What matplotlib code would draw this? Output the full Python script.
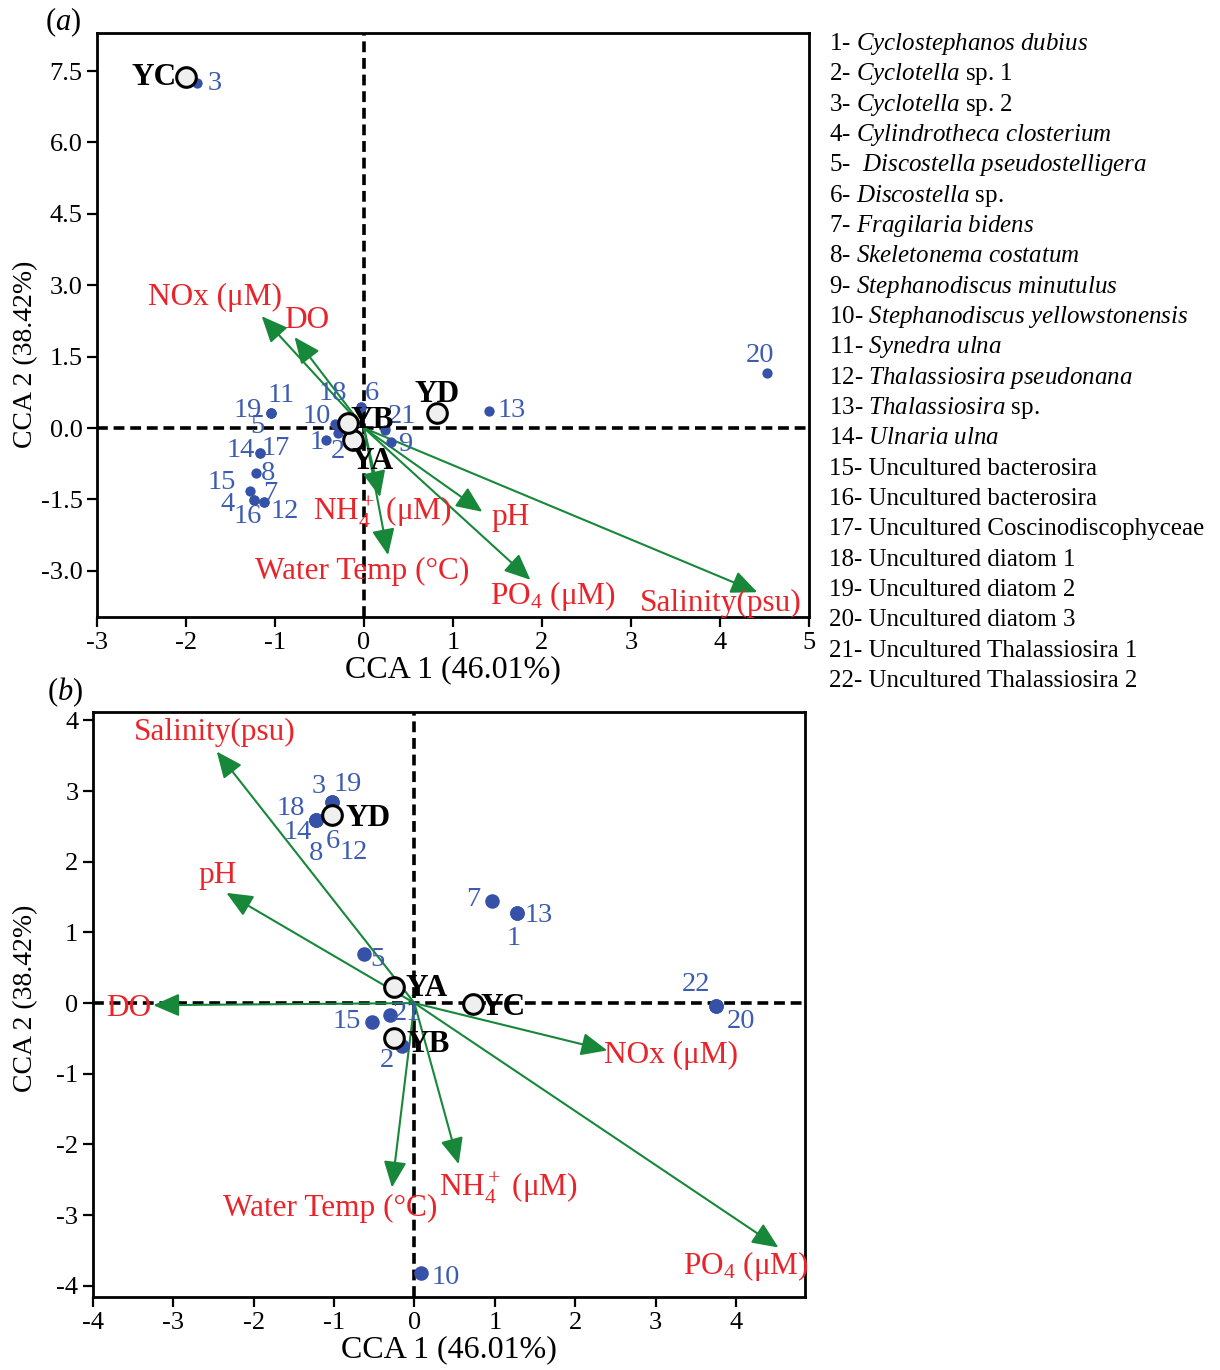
import matplotlib
matplotlib.use("Agg")
import matplotlib.pyplot as plt
import numpy as np

plt.rcParams['font.family'] = ['Liberation Serif', 'DejaVu Serif']
plt.rcParams['mathtext.fontset'] = 'custom'
plt.rcParams['mathtext.rm'] = 'Liberation Serif'
plt.rcParams['mathtext.it'] = 'Liberation Serif:italic'
plt.rcParams['mathtext.bf'] = 'Liberation Serif:bold'

# ---------------- data: panel (a) ----------------
sp_a_labels = ['1', '2', '3', '4', '5', '6', '7', '8', '9', '10', '11', '12', '13',
               '14', '15', '16', '17', '18', '19', '20', '21']
sp_a_x = [-0.43, -0.29, -1.88, -1.24, -1.05, -0.03, -1.12, -1.21, 0.30, -0.33, -1.05,
          -1.12, 1.40, -1.17, -1.28, -1.24, -1.17, -0.03, -1.05, 4.53, 0.24]
sp_a_y = [-0.25, -0.11, 7.25, -1.51, 0.31, 0.45, -1.55, -0.94, -0.29, 0.08, 0.31,
          -1.55, 0.36, -0.53, -1.32, -1.51, -0.53, 0.45, 0.31, 1.16, -0.04]

site_a_names = ['YA', 'YB', 'YC', 'YD']
site_a_x = [-0.12, -0.18, -2.00, 0.82]
site_a_y = [-0.25, 0.10, 7.37, 0.32]

env_a_names = ['NOx (μM)', 'DO', r'NH$_4^+$ (μM)', 'Water Temp (°C)', 'pH',
               r'PO$_4$ (μM)', 'Salinity(psu)']
env_a_x = [-1.15, -0.78, 0.18, 0.27, 1.33, 1.87, 4.42]
env_a_y = [2.35, 1.91, -1.45, -2.67, -1.76, -3.19, -3.45]

# ---------------- data: panel (b) ----------------
sp_b_labels = ['1', '2', '3', '5', '6', '7', '8', '10', '12', '13', '14', '15',
               '18', '19', '20', '21', '22']
sp_b_x = [1.27, -0.16, -1.02, -0.63, -1.03, 0.96, -1.23, 0.08, -1.03, 1.27, -1.23,
          -0.53, -1.23, -1.02, 3.75, -0.31, 3.75]
sp_b_y = [1.27, -0.61, 2.85, 0.69, 2.66, 1.44, 2.59, -3.82, 2.66, 1.27, 2.59,
          -0.27, 2.59, 2.85, -0.04, -0.17, -0.04]

site_b_names = ['YA', 'YB', 'YC', 'YD']
site_b_x = [-0.26, -0.26, 0.73, -1.03]
site_b_y = [0.23, -0.50, -0.01, 2.66]

env_b_names = ['Salinity(psu)', 'pH', 'DO', 'NOx (μM)', r'NH$_4^+$ (μM)',
               'Water Temp (°C)', r'PO$_4$ (μM)']
env_b_x = [-2.46, -2.34, -3.25, 2.40, 0.55, -0.28, 4.53]
env_b_y = [3.56, 1.56, -0.03, -0.67, -2.28, -2.61, -3.46]

species_legend = [
    r'1- $\mathit{Cyclostephanos\ dubius}$',
    r'2- $\mathit{Cyclotella}$ sp. 1',
    r'3- $\mathit{Cyclotella}$ sp. 2',
    r'4- $\mathit{Cylindrotheca\ closterium}$',
    r'5-  $\mathit{Discostella\ pseudostelligera}$',
    r'6- $\mathit{Discostella}$ sp.',
    r'7- $\mathit{Fragilaria\ bidens}$',
    r'8- $\mathit{Skeletonema\ costatum}$',
    r'9- $\mathit{Stephanodiscus\ minutulus}$',
    r'10- $\mathit{Stephanodiscus\ yellowstonensis}$',
    r'11- $\mathit{Synedra\ ulna}$',
    r'12- $\mathit{Thalassiosira\ pseudonana}$',
    r'13- $\mathit{Thalassiosira}$ sp.',
    r'14- $\mathit{Ulnaria\ ulna}$',
    '15- Uncultured bacterosira',
    '16- Uncultured bacterosira',
    '17- Uncultured Coscinodiscophyceae',
    '18- Uncultured diatom 1',
    '19- Uncultured diatom 2',
    '20- Uncultured diatom 3',
    '21- Uncultured Thalassiosira 1',
    '22- Uncultured Thalassiosira 2',
]

# ---------------- label layout (pixel offsets) ----------------
sp_a_off = [(-9, -3), (0, -18), (18, -1), (-26, -5), (-13, -13), (11, 13), (6, 8),
            (12, -1), (14, -3), (-18, 8), (11, 18), (20, -10), (23, 0), (-19, 3),
            (-28, 8), (-6, -17), (16, 5), (-29, 13), (-23, 3), (-7, 17), (17, 13)]
site_a_off = [(19, -22), (24, 3), (-32, 0), (0, 18)]
env_a_off = [(-47, 19), (12, 17), (2, -15), (-26, -16), (28, -6), (22, -16), (-37, -11)]

sp_b_off = [(-3, -25), (-15, -14), (-14, 15), (14, -5), (1, -26), (-18, 2), (0, -33),
            (25, -5), (22, -37), (22, -2), (-18, -12), (-25, 1), (-25, 12), (15, 17),
            (25, -16), (17, 2), (-20, 21)]
site_b_off = [(33, -2), (35, -6), (30, -4), (36, -3)]
env_b_off = [(-2, 19), (-9, 17), (-25, -3), (64, -5), (50, -24), (-62, -21), (-33, -18)]

BLUE_DOT = '#3652a8'
BLUE_TXT = '#3d5cb0'
RED = '#e8242a'
GREEN = '#17883a'

fig = plt.figure(figsize=(12.2, 13.7), dpi=100)
ax_a = fig.add_axes([97 / 1220, 1 - 617 / 1370, 712 / 1220, 584 / 1370])
ax_b = fig.add_axes([93 / 1220, 1 - 1297 / 1370, 712 / 1220, 585 / 1370])


def draw_panel(ax, spx, spy, splab, spoff, dot_s, sx, sy, snames, soff,
               ex, ey, enames, eoff):
    ax.axhline(0, color='black', lw=2.6, ls=(0, (3.0, 1.6)), zorder=1)
    ax.axvline(0, color='black', lw=2.6, ls=(0, (3.0, 1.6)), zorder=1)
    for x, y, name, off in zip(ex, ey, enames, eoff):
        ax.annotate('', xy=(x, y), xytext=(0, 0),
                    arrowprops=dict(arrowstyle='-|>,head_length=0.8,head_width=0.35',
                                    color=GREEN, lw=1.5, mutation_scale=20,
                                    shrinkA=0, shrinkB=0), zorder=2)
        ax.annotate(name, xy=(x, y), xytext=off, textcoords='offset pixels',
                    ha='center', va='center', color=RED, fontsize=22.5, zorder=5)
    ax.scatter(spx, spy, s=dot_s, color=BLUE_DOT, zorder=3, linewidths=0)
    for x, y, lab, off in zip(spx, spy, splab, spoff):
        ax.annotate(lab, xy=(x, y), xytext=off, textcoords='offset pixels',
                    ha='center', va='center', color=BLUE_TXT, fontsize=20.5, zorder=5)
    ax.scatter(sx, sy, s=200, facecolor='#efefef', edgecolor='black',
               linewidths=2.2, zorder=4)
    for x, y, name, off in zip(sx, sy, snames, soff):
        ax.annotate(name, xy=(x, y), xytext=off, textcoords='offset pixels',
                    ha='center', va='center', color='black', fontsize=22.5,
                    fontweight='bold', zorder=6)
    for sp in ax.spines.values():
        sp.set_linewidth(2)
    ax.tick_params(direction='out', length=7, width=1.6, labelsize=19,
                   top=False, right=False)


draw_panel(ax_a, sp_a_x, sp_a_y, sp_a_labels, sp_a_off, 55,
           site_a_x, site_a_y, site_a_names, site_a_off,
           env_a_x, env_a_y, env_a_names, env_a_off)
draw_panel(ax_b, sp_b_x, sp_b_y, sp_b_labels, sp_b_off, 110,
           site_b_x, site_b_y, site_b_names, site_b_off,
           env_b_x, env_b_y, env_b_names, env_b_off)

ax_a.set_xlim(-3, 5)
ax_a.set_ylim(-3.97, 8.3)
ax_a.set_xticks(range(-3, 6))
ax_a.set_yticks([-3.0, -1.5, 0.0, 1.5, 3.0, 4.5, 6.0, 7.5])
ax_a.set_yticklabels(['-3.0', '-1.5', '0.0', '1.5', '3.0', '4.5', '6.0', '7.5'])
ax_a.set_xticklabels([str(v) for v in range(-3, 6)])
ax_a.set_xlabel('CCA 1 (46.01%)', fontsize=23, labelpad=1)
ax_a.set_ylabel('CCA 2 (38.42%)', fontsize=20)
ax_a.yaxis.set_label_coords(-0.083, 0.45)

ax_b.set_xlim(-3.9, 4.86)
ax_b.set_ylim(-4.16, 4.12)
ax_b.set_xticks(range(-4, 5))
ax_b.set_xticklabels([str(v) for v in range(-4, 5)])
ax_b.set_yticks(range(-4, 5))
ax_b.set_yticklabels([str(v) for v in range(-4, 5)])
ax_b.set_xlabel('CCA 1 (46.01%)', fontsize=23, labelpad=1)
ax_b.set_ylabel('CCA 2 (38.42%)', fontsize=20)
ax_b.yaxis.set_label_coords(-0.077, 0.51)

fig.text(63 / 1220, 1 - 22 / 1370, r'($\mathit{a}$)', fontsize=22, ha='center', va='center')
fig.text(65 / 1220, 1 - 692 / 1370, r'($\mathit{b}$)', fontsize=22, ha='center', va='center')

for i, txt in enumerate(species_legend):
    fig.text(829 / 1220, 1 - (44 + i * 30.33) / 1370, txt, fontsize=18,
             ha='left', va='center')

fig.savefig('out.png', dpi=100)
